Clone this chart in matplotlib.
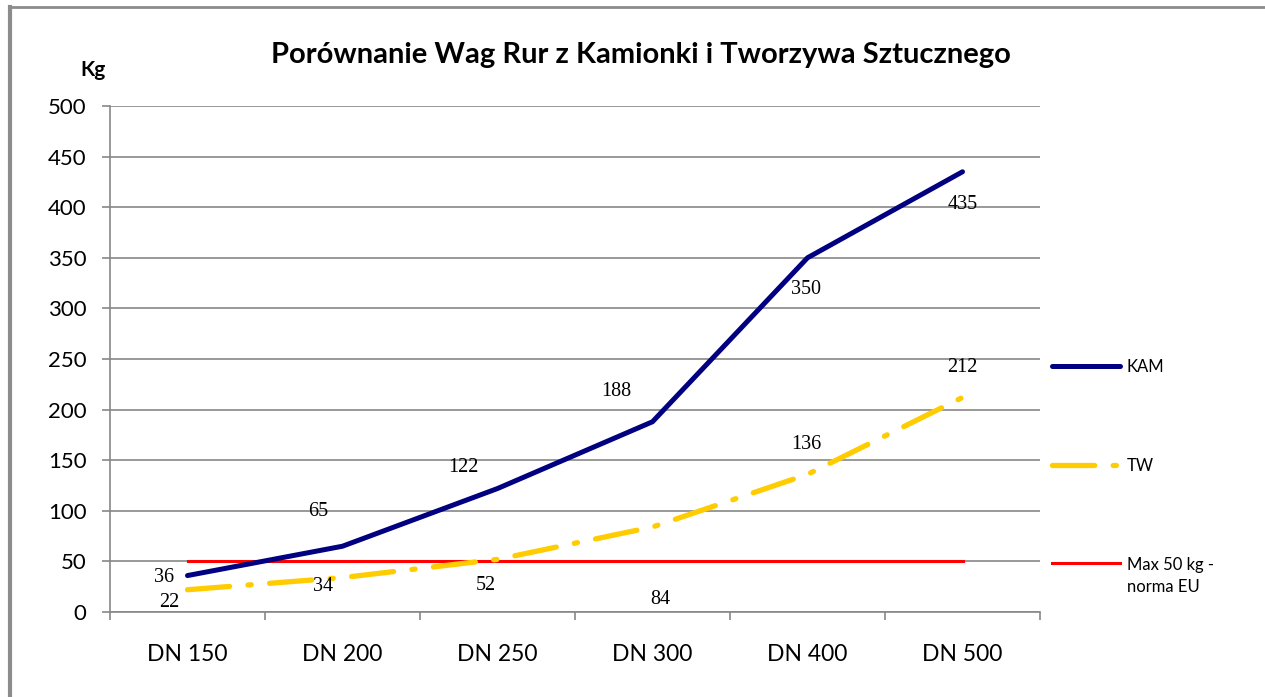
import matplotlib
matplotlib.use("Agg")
import matplotlib.pyplot as plt
from matplotlib.lines import Line2D
from matplotlib.legend_handler import HandlerLine2D

categories = ["DN 150", "DN 200", "DN 250", "DN 300", "DN 400", "DN 500"]
kam = [36, 65, 122, 188, 350, 435]
tw = [22, 34, 52, 84, 136, 212]
norma = [50, 50, 50, 50, 50, 50]

# label offsets in pixels (dx, dy up)
kam_off = [(-23, -2), (-24, 35), (-34, 21), (-36, 30), (-1, -32), (0, -33)]
tw_off = [(-18, -13), (-19, -9), (-12, -26), (8, -73), (-1, 30), (0, 30)]


class FirstLineHandler(HandlerLine2D):
    # put the line next to the first line of a two-line label
    def create_artists(self, legend, orig_handle, xdescent, ydescent, width, height,
                       fontsize, trans):
        return super().create_artists(legend, orig_handle, xdescent, ydescent - 19,
                                      width, height, fontsize, trans)


W, H = 1265, 697
fig = plt.figure(figsize=(W / 100, H / 100), dpi=100)
ax = fig.add_axes([110 / W, 1 - 612 / H, 930 / W, 506 / H])

font = "Lato"
grid_c = "#878787"
x = list(range(len(categories)))

ax.plot(x, kam, color="#000080", lw=3.6, label="KAM", solid_capstyle="round", zorder=3)
ax.plot(x, tw, color="#FFCC00", lw=3.8, label="TW", dashes=(8, 3.5, 0.6, 3.5),
        dash_capstyle="round", zorder=3)
red, = ax.plot(x, norma, color="#FF0000", lw=2.2, label="Max 50 kg -\nnorma EU", zorder=2)

for xi, v, (dx, dy) in zip(x, kam, kam_off):
    ax.annotate(str(v), (xi, v), xytext=(dx * 0.72, dy * 0.72), textcoords="offset points",
                ha="center", va="center", fontsize=14.5, family="Liberation Serif")
for xi, v, (dx, dy) in zip(x, tw, tw_off):
    ax.annotate(str(v), (xi, v), xytext=(dx * 0.72, dy * 0.72), textcoords="offset points",
                ha="center", va="center", fontsize=14.5, family="Liberation Serif")

ax.set_xlim(-0.5, len(categories) - 0.5)
ax.set_ylim(0, 500)
ax.set_yticks(range(0, 501, 50))
ax.set_xticks(x)
ax.set_xticklabels(categories, fontsize=16.5, family=font)
ax.set_xticks([i - 0.5 for i in range(len(categories) + 1)], minor=True)
ax.tick_params(axis="x", which="major", length=0, pad=23)
ax.tick_params(axis="x", which="minor", length=6, width=1.2, color=grid_c)
ax.tick_params(axis="y", length=6, width=1.2, color=grid_c, pad=11, labelsize=16)
for lab in ax.get_yticklabels():
    lab.set_family(font)
ax.yaxis.grid(True, color=grid_c, lw=1.2)
ax.set_axisbelow(True)
for s in ["top", "right"]:
    ax.spines[s].set_visible(False)
for s in ["left", "bottom"]:
    ax.spines[s].set_color(grid_c)
    ax.spines[s].set_linewidth(1.2)

leg = ax.legend(loc="upper left", bbox_to_anchor=(1052 / W, 1 - 359 / H),
                bbox_transform=fig.transFigure, frameon=False, borderpad=0,
                borderaxespad=0, handlelength=4.1, handletextpad=0.4,
                labelspacing=4.98, prop={"family": font, "size": 12},
                handler_map={red: FirstLineHandler()})
leg.get_texts()[2].set_linespacing(1.45)

fig.text(641 / W, 1 - 55 / H, "Porównanie Wag Rur z Kamionki i Tworzywa Sztucznego",
         ha="center", va="center", fontsize=21, fontweight="bold", family=font)
fig.text(93 / W, 1 - 70 / H, "Kg", ha="center", va="center", fontsize=15,
         fontweight="bold", family=font)

# outer frame (top and left edges only)
fig.add_artist(Line2D([10 / W, 1], [1 - 7 / H, 1 - 7 / H], color="#8c8c8c", lw=2))
fig.add_artist(Line2D([10 / W, 10 / W], [0, 1 - 7 / H], color="#8c8c8c", lw=3))

fig.savefig("out.png", dpi=100)
